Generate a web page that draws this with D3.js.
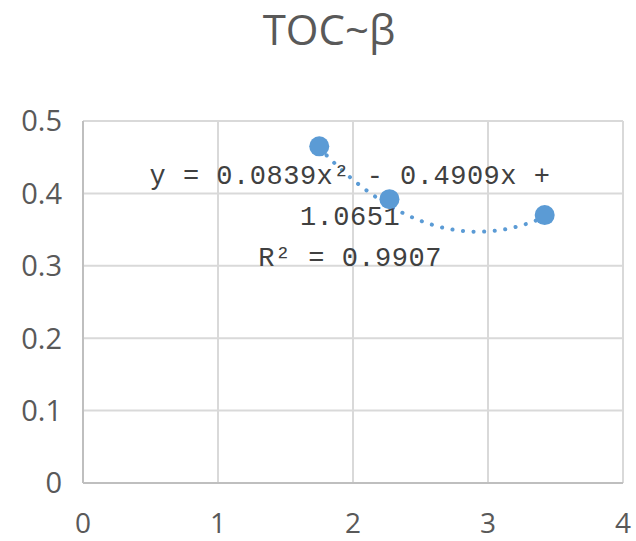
<!DOCTYPE html>
<html><head><meta charset="utf-8">
<script src="https://cdn.jsdelivr.net/npm/d3@7"></script>
<style>body{margin:0;background:#fff;}</style>
</head><body>
<svg id="c" width="636" height="541"></svg>
<script>
const title = "TOC~β";
const xValues = [1.75, 2.27, 3.42];
const yValues = [0.465, 0.392, 0.370];
const xTicks = [0, 1, 2, 3, 4];
const yTicks = [0, 0.1, 0.2, 0.3, 0.4, 0.5];
const coef = [0.0839, -0.4909, 1.0651]; // a, b, c
const eqLines = ["y = 0.0839x² - 0.4909x +", "1.0651", "R² = 0.9907"];

const svg = d3.select("#c");
const m = {l: 83, r: 13, t: 121, b: 58};
const W = 636, H = 541;
const x = d3.scaleLinear().domain([0, 4]).range([m.l, W - m.r]);
const y = d3.scaleLinear().domain([0, 0.5]).range([H - m.b, m.t]);

const grid = "#d9d9d9";
svg.append("g").selectAll("line").data(yTicks).join("line")
  .attr("x1", x(0)).attr("x2", x(4)).attr("y1", d => y(d)).attr("y2", d => y(d))
  .attr("stroke", grid).attr("stroke-width", 2);
svg.append("g").selectAll("line").data(xTicks).join("line")
  .attr("y1", y(0)).attr("y2", y(0.5)).attr("x1", d => x(d)).attr("x2", d => x(d))
  .attr("stroke", grid).attr("stroke-width", 2);
// axis lines
svg.append("line").attr("x1", x(0)).attr("x2", x(4)).attr("y1", y(0)).attr("y2", y(0))
  .attr("stroke", "#bfbfbf").attr("stroke-width", 2);
svg.append("line").attr("x1", x(0)).attr("x2", x(0)).attr("y1", y(0)).attr("y2", y(0.5))
  .attr("stroke", "#bfbfbf").attr("stroke-width", 2);

const tickFont = "'Open Sans', 'Liberation Sans', sans-serif";
svg.append("g").selectAll("text").data(yTicks).join("text")
  .attr("x", 62).attr("y", d => y(d)).attr("dy", "0.36em")
  .attr("text-anchor", "end").attr("font-family", tickFont).attr("font-size", 29)
  .attr("fill", "#595959").text(d => d3.format("")(d));
svg.append("g").selectAll("text").data(xTicks).join("text")
  .attr("x", d => x(d)).attr("y", 523).attr("dy", "0.36em")
  .attr("text-anchor", "middle").attr("font-family", tickFont).attr("font-size", 28)
  .attr("fill", "#595959").text(d => d);

svg.append("text").attr("x", 329).attr("y", 45).attr("text-anchor", "middle")
  .attr("font-family", tickFont).attr("font-size", 42).attr("fill", "#595959").text(title);

// trendline
const x0 = d3.min(xValues), x1 = d3.max(xValues);
const pts = d3.range(0, 101).map(i => {
  const xv = x0 + (x1 - x0) * i / 100;
  return [xv, coef[0] * xv * xv + coef[1] * xv + coef[2]];
});
svg.append("path").datum(pts)
  .attr("d", d3.line().x(d => x(d[0])).y(d => y(d[1])).curve(d3.curveBasis))
  .attr("fill", "none").attr("stroke", "#5b9bd5").attr("stroke-width", 4)
  .attr("stroke-linecap", "round").attr("stroke-dasharray", "0.1 10.5");

// equation
svg.append("g").selectAll("text").data(eqLines).join("text")
  .attr("x", 350).attr("y", (d, i) => 184 + i * 41)
  .attr("text-anchor", "middle").attr("font-family", "'Liberation Mono', monospace")
  .attr("font-size", 27).attr("letter-spacing", 0.5).attr("fill", "#404040").text(d => d);

// points
svg.append("g").selectAll("circle").data(xValues).join("circle")
  .attr("cx", d => x(d)).attr("cy", (d, i) => y(yValues[i])).attr("r", 10)
  .attr("fill", "#5b9bd5");
</script>
</body></html>
